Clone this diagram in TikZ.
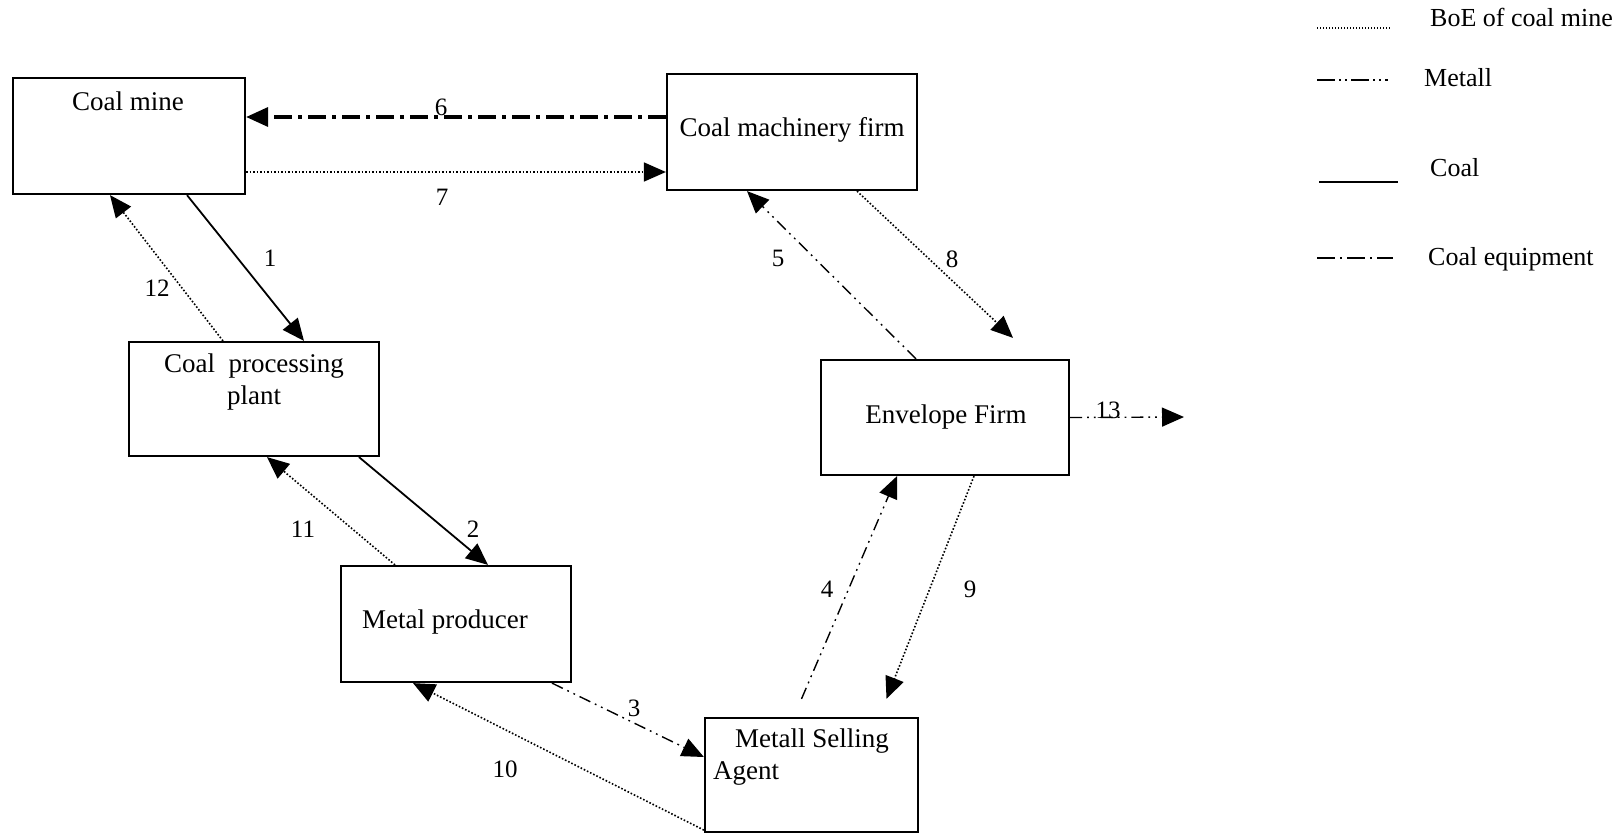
\documentclass[tikz,border=0pt]{standalone}
\usepackage{fontspec}
\setmainfont{Liberation Serif}
\usetikzlibrary{arrows.meta}
\tikzset{
  box/.style={rectangle,draw,line width=2.2pt,inner sep=0pt},
  txt/.style={inner sep=0pt,font=\fontsize{27}{32}\selectfont},
  lgtxt/.style={inner sep=0pt,font=\fontsize{26}{31}\selectfont},
  numlbl/.style={inner sep=0pt,font=\fontsize{25}{30}\selectfont},
  arr/.style={-{Triangle[length=22pt,width=19pt]}},
  coal/.style={line width=1.8pt},
  boe/.style={line width=1.6pt,dash pattern=on 1.6pt off 1.9pt},
  metall/.style={line width=1.4pt,dash pattern=on 12pt off 5pt on 1.8pt off 5pt on 1.8pt off 5pt},
  equip/.style={line width=3.4pt,dash pattern=on 18pt off 6pt on 4pt off 6pt}
}
\begin{document}
\begin{tikzpicture}[x=1pt,y=-1pt]
    \useasboundingbox (0,0) rectangle (1619,833);

\node[box,minimum width=232pt,minimum height=116pt] (mine) at (129,136) {};
\node[box,minimum width=250pt,minimum height=116pt] (mach) at (792,132) {};
\node[box,minimum width=250pt,minimum height=114pt] (cpp) at (254,399) {};
\node[box,minimum width=248pt,minimum height=115pt] (env) at (945,417.5) {};
\node[box,minimum width=230pt,minimum height=116pt] (prod) at (456,624) {};
\node[box,minimum width=213pt,minimum height=114pt] (agent) at (811.5,775) {};

\path (128,110) node[txt,anchor=base] (mine-t) {Coal mine};
\path (792,136) node[txt,anchor=base] (mach-t) {Coal machinery firm};
\path (254,353.5) node[txt,anchor=north,align=center] (cpp-t) {Coal~~processing\\plant};
\path (946,423) node[txt,anchor=base] (env-t) {Envelope Firm};
\path (445,628) node[txt,anchor=base] (prod-t) {Metal producer};
\path (713,728.5) node[txt,anchor=north west,align=left] (agent-t) {\hspace*{22pt}Metall Selling\\Agent};

\draw[coal,arr] ([xshift=58]mine.south) -- ([xshift=50]cpp.north);
\draw[boe,arr] ([xshift=-31]cpp.north) -- ([xshift=-19]mine.south);
\draw[coal,arr] ([xshift=105]cpp.south) -- ([xshift=32]prod.north);
\draw[boe,arr] ([xshift=-61]prod.north) -- ([xshift=13]cpp.south);
\draw[metall,arr] ([xshift=96]prod.south) -- ([yshift=18]agent.west);
\draw[boe,arr] ([yshift=3]agent.south west) -- ([xshift=-43]prod.south);
\draw[metall,arr] ([xshift=-10,yshift=18]agent.north) -- ([xshift=-48]env.south);
\draw[boe,arr] ([xshift=29]env.south) -- ([xshift=75,yshift=18]agent.north);
\draw[equip,arr] ([yshift=15]mach.west) -- ([yshift=19]mine.east);
\draw[boe,arr] ([yshift=-36]mine.east) -- ([yshift=-40]mach.west);
\draw[boe,arr] ([xshift=65]mach.south) -- ([xshift=68,yshift=21]env.north);
\draw[metall,arr] ([xshift=-29]env.north) -- ([xshift=-45]mach.south);
\coordinate (out) at (1184,417);
\draw[metall,arr] (env.east) -- (out);

\path (270,258) node[numlbl] (n1) {1};
\path (473,529) node[numlbl] (n2) {2};
\path (634,708) node[numlbl] (n3) {3};
\path (827,589) node[numlbl] (n4) {4};
\path (778,258) node[numlbl] (n5) {5};
\path (441,107) node[numlbl] (n6) {6};
\path (442,197) node[numlbl] (n7) {7};
\path (952,259) node[numlbl] (n8) {8};
\path (970,589) node[numlbl] (n9) {9};
\path (505,769) node[numlbl] (n10) {10};
\path (303,529) node[numlbl] (n11) {11};
\path (157,288) node[numlbl] (n12) {12};
\path (1108,410) node[numlbl] (n13) {13};

\coordinate (lg1a) at (1317,28);
\coordinate (lg1b) at (1391,28);
\coordinate (lg2a) at (1317,80);
\coordinate (lg2b) at (1388,80);
\coordinate (lg3a) at (1319,182);
\coordinate (lg3b) at (1398,182);
\coordinate (lg4a) at (1317,258);
\coordinate (lg4b) at (1393,258);
\draw[line width=1.2pt,dash pattern=on 1.2pt off 1.8pt] (lg1a) -- (lg1b);
\draw[line width=2.5pt,dash pattern=on 18pt off 4pt on 2pt off 4pt on 2pt off 4pt] (lg2a) -- (lg2b);
\draw[coal] (lg3a) -- (lg3b);
\draw[line width=2.5pt,dash pattern=on 18pt off 5pt on 2pt off 5pt] (lg4a) -- (lg4b);
\path (1430,26) node[lgtxt,anchor=base west] (lg1) {BoE of coal mine};
\path (1424,86) node[lgtxt,anchor=base west] (lg2) {Metall};
\path (1430,176) node[lgtxt,anchor=base west] (lg3) {Coal};
\path (1428,265) node[lgtxt,anchor=base west] (lg4) {Coal equipment};

  \end{tikzpicture}
\end{document}
